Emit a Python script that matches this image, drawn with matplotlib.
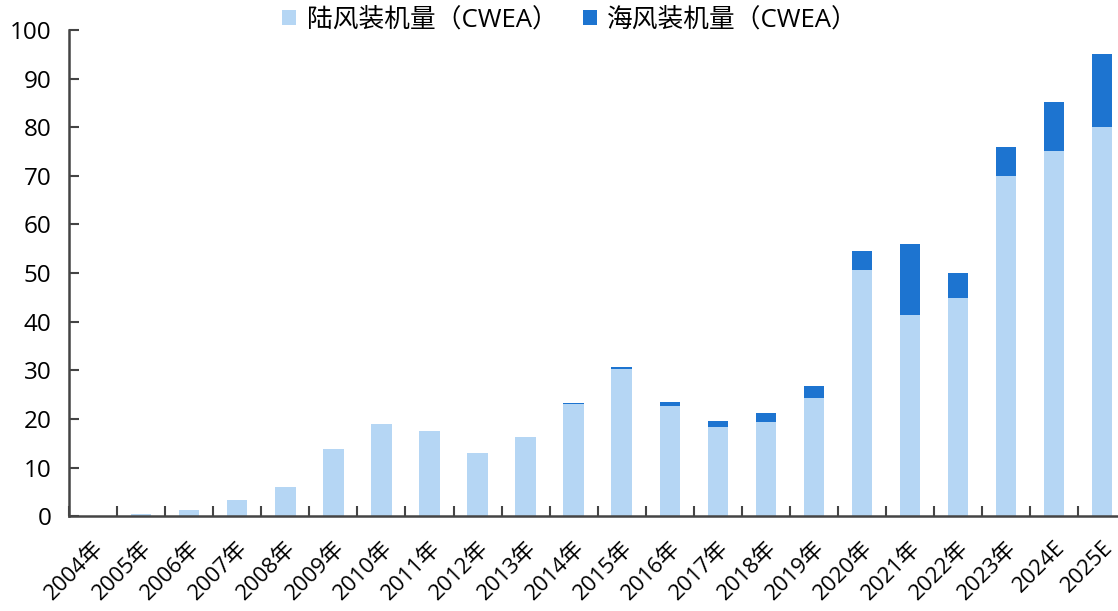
import matplotlib
matplotlib.use("Agg")
import matplotlib.pyplot as plt
import numpy as np

plt.rcParams['font.family'] = ['Open Sans', 'Noto Sans CJK SC', 'DejaVu Sans']

years = ["2004年", "2005年", "2006年", "2007年", "2008年", "2009年", "2010年", "2011年",
         "2012年", "2013年", "2014年", "2015年", "2016年", "2017年", "2018年", "2019年",
         "2020年", "2021年", "2022年", "2023年", "2024E", "2025E"]
onshore = [0.0, 0.5, 1.2, 3.3, 6.1, 13.9, 19.0, 17.6, 13.1, 16.4, 23.0, 30.3, 22.7,
           18.3, 19.4, 24.3, 50.6, 41.4, 44.9, 70.0, 75.1, 80.0]
offshore = [0.0, 0.0, 0.0, 0.0, 0.0, 0.0, 0.0, 0.0, 0.0, 0.0, 0.2, 0.4, 0.7,
            1.2, 1.8, 2.4, 3.9, 14.6, 5.1, 5.9, 10.1, 15.0]

light = '#b5d6f4'
dark = '#1d74d0'

fig = plt.figure(figsize=(11.18, 6.11), dpi=100)
ax = fig.add_axes([0.062, 0.155, 0.945, 0.796])

x = np.arange(len(years))
ax.bar(x, onshore, width=0.42, color=light, label='陆风装机量（CWEA）')
ax.bar(x, offshore, width=0.42, bottom=onshore, color=dark, label='海风装机量（CWEA）')

ax.set_xlim(-0.5, len(years) - 0.5)
ax.set_ylim(0, 100)
ax.set_yticks(np.arange(0, 101, 10))
ax.tick_params(axis='y', labelsize=17.5, length=7, width=1.5, color='#444444',
               direction='in', pad=13)

ax.set_xticks(x)
ax.set_xticklabels(years, rotation=45, ha='right', va='top', rotation_mode='anchor',
                   fontsize=16)
ax.tick_params(axis='x', length=0, pad=15)
ax.set_xticks(np.arange(-0.5, len(years) - 0.5, 1), minor=True)
ax.tick_params(axis='x', which='minor', length=7, width=1.5, color='#444444', direction='in')

for s in ['top', 'right']:
    ax.spines[s].set_visible(False)
for s in ['left', 'bottom']:
    ax.spines[s].set_linewidth(1.8)
    ax.spines[s].set_color('#444444')

leg = ax.legend(loc='upper center', bbox_to_anchor=(0.474, 1.093), ncol=2, frameon=False,
                fontsize=18.5, handlelength=0.55, handleheight=0.55, handletextpad=0.4,
                columnspacing=1.0)

fig.savefig('out.png', dpi=100)
